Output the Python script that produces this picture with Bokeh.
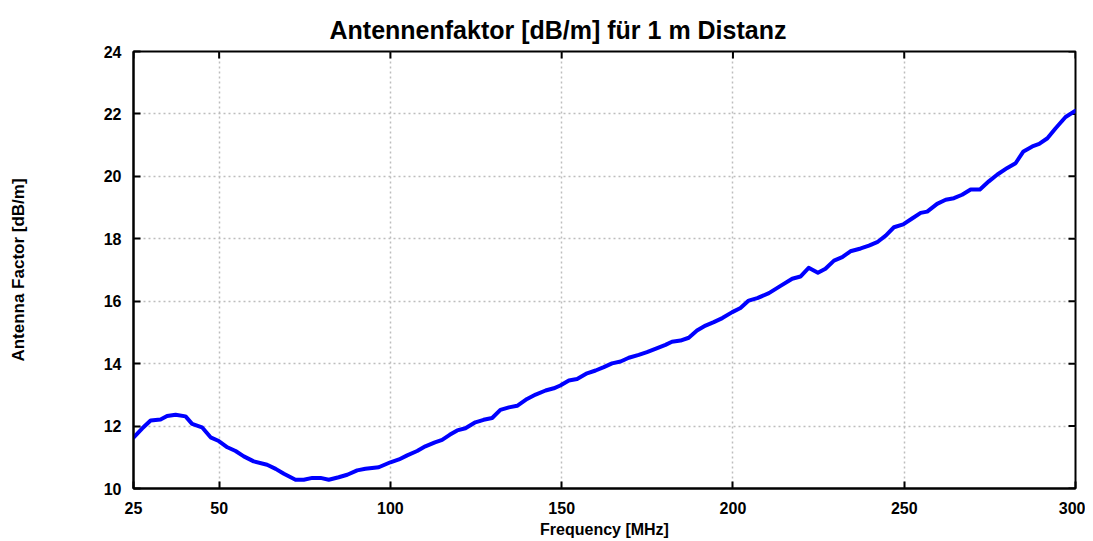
import math
from bokeh.plotting import figure
from bokeh.models import FixedTicker, Range1d
from bokeh.embed import file_html
from bokeh.resources import INLINE

freq = [25, 27.5, 30, 32.9, 34.8, 37.3, 40.2, 42.1, 45, 47.5, 49.9, 52.4, 54.8, 57.2, 60.1,
        64, 66.5, 68.9, 72.3, 74.7, 77.2, 79.6, 82, 84.9, 87.4, 90.3, 92.7, 96.6, 100,
        102.5, 104.9, 107.8, 110.2, 113, 115.1, 117.3, 119.5, 121.9, 124.8, 127.2, 129.7,
        132.1, 134.6, 137, 139.9, 142.4, 145.3, 147.7, 149.6, 152.1, 154.5, 157.4, 159.9,
        162.3, 164.7, 167.2, 169.6, 172.5, 174.9, 177.9, 180.3, 182.2, 184.7, 187.1, 189.5,
        192, 194.4, 196.9, 199.8, 202.2, 204.6, 207.1, 210.5, 213.9, 217.3, 219.7, 222.1,
        224.8, 227, 229.5, 231.9, 234.3, 237.3, 239.7, 242.1, 244.6, 247, 249.7, 252.3,
        254.8, 256.7, 259.6, 262.1, 264.5, 266.9, 269.4, 272.1, 274.7, 277.2, 280.1, 282.5,
        284.8, 287.4, 289.4, 291.8, 294.2, 297.1, 300]
antenna_factor = [11.63, 11.92, 12.18, 12.21, 12.32, 12.36, 12.31, 12.07, 11.96, 11.64, 11.52,
                  11.32, 11.2, 11.03, 10.87, 10.76, 10.63, 10.47, 10.28, 10.28, 10.34, 10.34,
                  10.28, 10.36, 10.44, 10.58, 10.63, 10.68, 10.84, 10.93, 11.06, 11.2, 11.35,
                  11.48, 11.56, 11.72, 11.86, 11.93, 12.12, 12.2, 12.26, 12.52, 12.6, 12.65,
                  12.87, 13.01, 13.14, 13.21, 13.3, 13.46, 13.51, 13.69, 13.78, 13.89, 14.01,
                  14.07, 14.19, 14.28, 14.37, 14.5, 14.6, 14.7, 14.74, 14.83, 15.06, 15.22,
                  15.33, 15.46, 15.65, 15.78, 16.02, 16.1, 16.26, 16.49, 16.72, 16.79, 17.07,
                  16.91, 17.04, 17.3, 17.41, 17.6, 17.69, 17.78, 17.89, 18.1, 18.37, 18.46,
                  18.65, 18.83, 18.87, 19.12, 19.25, 19.3, 19.41, 19.58, 19.58, 19.84, 20.06,
                  20.27, 20.42, 20.8, 20.96, 21.04, 21.22, 21.54, 21.9, 22.1]

x_ticks = [25, 50, 100, 150, 200, 250, 300]
y_ticks = [10, 12, 14, 16, 18, 20, 22, 24]

title_text = "Antennenfaktor [dB/m] für 1 m Distanz"
x_label = "Frequency [MHz]"
y_label = "Antenna Factor [dB/m]"

FONT = "Liberation Sans"

x_min, x_max = x_ticks[0], x_ticks[-1]
y_min, y_max = y_ticks[0], y_ticks[-1]

p = figure(frame_width=942, frame_height=437,
           x_range=Range1d(x_min, x_max), y_range=Range1d(y_min, y_max),
           output_backend="svg", toolbar_location=None,
           min_border_left=133, min_border_right=10, min_border_top=51, min_border_bottom=40,
           title=title_text)

p.title.text_font = FONT
p.title.text_font_size = "25px"
p.title.text_font_style = "bold"
p.title.align = "left"
p.title.offset = 196
p.title.standoff = 16
p.title.text_color = "black"

p.outline_line_color = "black"
p.outline_line_width = 2

for ax in (p.xaxis[0], p.yaxis[0]):
    ax.major_tick_in = 7
    ax.major_tick_out = 0
    ax.minor_tick_line_color = None
    ax.axis_line_width = 2
    ax.major_tick_line_width = 2
    ax.major_label_text_font = FONT
    ax.major_label_text_font_size = "16px"
    ax.major_label_text_font_style = "bold"
    ax.major_label_text_color = "black"
    ax.axis_label_text_font = FONT
    ax.axis_label_text_font_style = "bold"
    ax.axis_label_text_color = "black"

p.xaxis.axis_label_text_font_size = "16px"
p.yaxis.axis_label_text_font_size = "17px"
p.xaxis.ticker = FixedTicker(ticks=x_ticks)
p.yaxis.ticker = FixedTicker(ticks=y_ticks)
p.xaxis.axis_label = x_label
p.yaxis.axis_label = y_label
p.xaxis.major_label_standoff = 13
p.xaxis.axis_label_standoff = 4
p.yaxis.major_label_standoff = 12
p.yaxis.axis_label_standoff = 73

p.xgrid.ticker = FixedTicker(ticks=x_ticks)
p.ygrid.ticker = FixedTicker(ticks=y_ticks)
for g in (p.xgrid, p.ygrid):
    g.grid_line_color = "#bdbdbd"
    g.grid_line_dash = "2 3"
    g.grid_line_width = 1.5

# mirrored inward tick marks on the top and right frame edges (clipped to frame)
p.scatter(x_ticks, [y_max] * len(x_ticks), marker="dash", angle=math.pi / 2, size=14,
          line_color="black", line_width=2)
p.scatter([x_max] * len(y_ticks), y_ticks, marker="dash", size=14,
          line_color="black", line_width=2)

p.line(freq, antenna_factor, line_color="#0000ff", line_width=4,
       line_join="round", line_cap="round")

open("out.html", "w").write(file_html(p, INLINE))
